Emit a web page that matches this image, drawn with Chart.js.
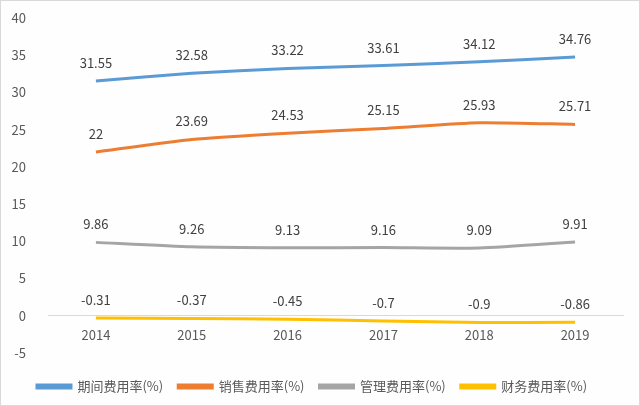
<!DOCTYPE html>
<html>
<head>
<meta charset="utf-8">
<script src="https://cdn.jsdelivr.net/npm/chart.js@4"></script>
<style>
  html, body { margin: 0; padding: 0; background: #ffffff; }
  #wrap { width: 638px; height: 404px; border: 1px solid #d9d9d9; background: #fefefe; }
</style>
</head>
<body>
<div id="wrap"><canvas id="costChart" width="638" height="404"></canvas></div>
<script>
// chart data
const years = ["2014", "2015", "2016", "2017", "2018", "2019"];
const periodRate = [31.55, 32.58, 33.22, 33.61, 34.12, 34.76];
const salesRate = [22, 23.69, 24.53, 25.15, 25.93, 25.71];
const adminRate = [9.86, 9.26, 9.13, 9.16, 9.09, 9.91];
const financeRate = [-0.31, -0.37, -0.45, -0.7, -0.9, -0.86];
const seriesNames = ["期间费用率(%)", "销售费用率(%)", "管理费用率(%)", "财务费用率(%)"];
const yTicks = [-5, 0, 5, 10, 15, 20, 25, 30, 35, 40];

const colors = ["#5b9bd5", "#ed7d31", "#a5a5a5", "#ffc000"];
const fontFamily = "'Noto Sans CJK SC', 'Noto Sans', sans-serif";

// draws the value above every point
const valueLabels = {
    id: "valueLabels",
    afterDatasetsDraw(chart) {
        const ctx = chart.ctx;
        ctx.save();
        ctx.font = "13px " + fontFamily;
        ctx.fillStyle = "#404040";
        ctx.textAlign = "center";
        ctx.textBaseline = "middle";
        chart.data.datasets.forEach((ds, i) => {
            const meta = chart.getDatasetMeta(i);
            meta.data.forEach((pt, j) => {
                ctx.fillText(String(ds.data[j]), pt.x, pt.y - 18);
            });
        });
        ctx.restore();
    }
};

const allSeries = [periodRate, salesRate, adminRate, financeRate];

new Chart(document.getElementById("costChart").getContext("2d"), {
    type: "line",
    data: {
        labels: years,
        datasets: allSeries.map((vals, i) => ({
            label: seriesNames[i],
            data: vals,
            borderColor: colors[i],
            backgroundColor: colors[i],
            borderWidth: 3,
            pointRadius: 0,
            tension: 0.2,
            fill: false
        }))
    },
    options: {
        responsive: false,
        animation: false,
        layout: { padding: { top: 17, right: 16, bottom: 2, left: 0 } },
        plugins: {
            legend: {
                position: "bottom",
                // empty title used as a spacer above the legend row
                title: { display: true, text: "", font: { size: 1, lineHeight: 1 }, padding: { top: 0, bottom: 11 } },
                labels: {
                    font: { family: fontFamily, size: 13 },
                    color: "#595959",
                    boxWidth: 34,
                    boxHeight: 3,
                    padding: 15
                }
            },
            tooltip: { enabled: false }
        },
        scales: {
            x: {
                position: { y: 0 },
                offset: true,
                grid: { display: false, drawTicks: false },
                border: { color: "#d9d9d9", width: 1 },
                ticks: {
                    color: "#595959",
                    font: { family: fontFamily, size: 13 },
                    padding: 11
                }
            },
            y: {
                min: -5,
                max: 40,
                afterBuildTicks: scale => { scale.ticks = yTicks.map(v => ({ value: v })); },
                grid: { display: false },
                border: { display: false },
                ticks: {
                    color: "#595959",
                    font: { family: fontFamily, size: 13 },
                    padding: 14
                },
                afterFit: scale => {
                    scale.width = 47;
                    scale.paddingTop = 0;
                    scale.paddingBottom = 0;
                }
            }
        }
    },
    plugins: [valueLabels]
});
</script>
</body>
</html>
